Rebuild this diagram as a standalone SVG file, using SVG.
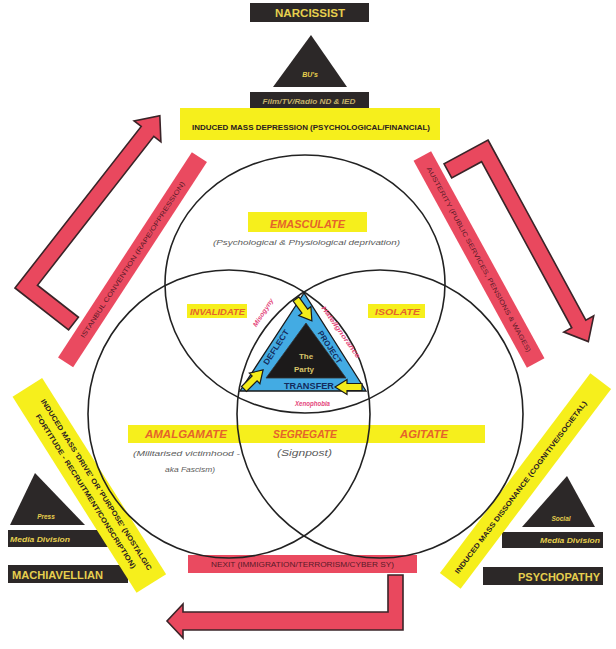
<svg xmlns="http://www.w3.org/2000/svg" width="616" height="649" viewBox="0 0 616 649">
<style>
.blk{fill:#2c2828}
.gold{fill:#e6cf4e;font-family:"Liberation Sans",Arial,sans-serif;font-weight:bold}
.gi{font-style:italic}
.ylw{fill:#f6ef1c}
.red{fill:#ea4a60}
.arr{fill:#e9485e;stroke:#3a2428;stroke-width:1.6;stroke-linejoin:miter}
.lbl{fill:#e5642b;font-family:"Liberation Sans",Arial,sans-serif;font-weight:bold;font-style:italic;text-anchor:middle}
.sub{fill:#5a5a5a;font-family:"Liberation Sans",Arial,sans-serif;font-style:italic;text-anchor:middle}
.bt{fill:#2a2020;font-family:"Liberation Sans",Arial,sans-serif;font-weight:bold;text-anchor:middle}
.rt{fill:#5a1a28;font-family:"Liberation Sans",Arial,sans-serif;text-anchor:middle;font-size:6.5px}
.circ{fill:none;stroke:#222;stroke-width:1.6}
.nv{fill:#142c5c;font-family:"Liberation Sans",Arial,sans-serif;font-weight:bold;text-anchor:middle}
.pk{fill:#e4457a;font-family:"Liberation Sans",Arial,sans-serif;font-weight:bold;font-style:italic;text-anchor:middle;font-size:6.5px}
</style>
<defs>
<polygon id="ya" points="0,-3.5 15,-3.5 15,-7.5 27,0 15,7.5 15,3.5 0,3.5" fill="#f4ec1a" stroke="#1a1a1a" stroke-width="1.2"/>
</defs>
<rect width="616" height="649" fill="#ffffff"/>

<g id="narcissist">
<rect x="250" y="3" width="119" height="19" class="blk"/>
<text x="310" y="17" class="gold" font-size="11" text-anchor="middle" textLength="70" lengthAdjust="spacingAndGlyphs">NARCISSIST</text>
<polygon points="311,35 273,87 347,87" class="blk"/>
<text x="310" y="77" class="gold gi" font-size="7" text-anchor="middle">BU's</text>
<rect x="250" y="92" width="119" height="16" class="blk"/>
<text x="309" y="103.5" class="gold gi" font-size="7.5" style="fill:#c2b06a" text-anchor="middle" textLength="93" lengthAdjust="spacingAndGlyphs">Film/TV/Radio ND &amp; IED</text>
</g>

<g id="depression">
<rect x="180" y="108" width="260" height="32" class="ylw"/>
<text x="311" y="130" class="bt" font-size="7.5" textLength="238" lengthAdjust="spacingAndGlyphs">INDUCED MASS DEPRESSION (PSYCHOLOGICAL/FINANCIAL)</text>
</g>

<g id="connectors">
<polygon class="arr" transform="translate(15,288) rotate(-52)" points="0,0 205,0 205,-9 225,8 205,25 205,16 16,16 16,68 0,68"/>
<polygon class="arr" transform="translate(488,140) rotate(61.5)" points="0,0 205,0 205,-9 225,8 205,25 205,16 16,16 16,50 0,50"/>
<polygon class="arr" points="388,575 403,575 403,630 183,630 183,638 167,621 183,604 183,612 388,612"/>
</g>

<g id="istanbul" transform="translate(132.5,259.75) rotate(-56.9)">
<rect x="-122.5" y="-9" width="245" height="18" class="red"/>
<text x="0" y="2.3" class="rt" textLength="185" lengthAdjust="spacingAndGlyphs">ISTANBUL CONVENTION (RAPE/OPPRESSION)</text>
</g>

<g id="austerity" transform="translate(479,259.5) rotate(61.3)">
<rect x="-118" y="-10" width="236" height="20" class="red"/>
<text x="0" y="2.3" class="rt" textLength="210" lengthAdjust="spacingAndGlyphs">AUSTERITY (PUBLIC SERVICES, PENSIONS &amp; WAGES)</text>
</g>

<g id="machiavellian">
<polygon points="35,473 10,525 85,525" class="blk"/>
<text x="46" y="519" class="gold gi" font-size="6.5" text-anchor="middle">Press</text>
<rect x="8" y="530" width="110" height="17" class="blk"/>
<text x="10" y="541.5" class="gold gi" font-size="7" textLength="60" lengthAdjust="spacingAndGlyphs">Media Division</text>
<rect x="8" y="565" width="120" height="18" class="blk"/>
<text x="12" y="578.5" class="gold" font-size="11" textLength="91" lengthAdjust="spacingAndGlyphs">MACHIAVELLIAN</text>
</g>

<g id="drive" transform="translate(43,400) rotate(57.7)">
<rect x="-19" y="-11" width="232" height="35" class="ylw"/>
<text x="100" y="2.5" class="bt" font-size="7" textLength="201" lengthAdjust="spacingAndGlyphs">INDUCED MASS 'DRIVE' OR 'PURPOSE' (NOSTALGIC</text>
<text x="100" y="15" class="bt" font-size="7" textLength="181" lengthAdjust="spacingAndGlyphs">FORTITUDE - RECRUITMENT/CONSCRIPTION)</text>
</g>

<g id="psychopathy">
<polygon points="567,476 522,527 595,527" class="blk"/>
<text x="561" y="521" class="gold gi" font-size="6.5" text-anchor="middle">Social</text>
<rect x="502" y="532" width="101" height="16" class="blk"/>
<text x="600" y="543" class="gold gi" font-size="7" text-anchor="end" textLength="60" lengthAdjust="spacingAndGlyphs">Media Division</text>
<rect x="483" y="567" width="120" height="18" class="blk"/>
<text x="600" y="580.5" class="gold" font-size="11" text-anchor="end" textLength="82" lengthAdjust="spacingAndGlyphs">PSYCHOPATHY</text>
</g>

<g id="dissonance" transform="translate(525.5,481) rotate(-53)">
<rect x="-125" y="-13" width="250" height="26" class="ylw"/>
<text x="-8" y="2.5" class="bt" font-size="7" textLength="214" lengthAdjust="spacingAndGlyphs">INDUCED MASS DISSONANCE (COGNITIVE/SOCIETAL)</text>
</g>

<g id="nexit">
<rect x="188" y="555" width="229" height="18" class="red"/>
<text x="302.5" y="567" class="rt" textLength="183" lengthAdjust="spacingAndGlyphs">NEXIT (IMMIGRATION/TERRORISM/CYBER SY)</text>
</g>

<rect x="128" y="425" width="357" height="18" class="ylw"/>

<g id="circles">
<ellipse cx="305" cy="284" rx="140" ry="129" class="circ"/>
<ellipse cx="229" cy="414" rx="141" ry="144" class="circ"/>
<ellipse cx="380" cy="414" rx="143" ry="144" class="circ"/>
</g>

<g id="emasculate">
<rect x="248" y="212" width="119" height="20" class="ylw"/>
<text x="307.5" y="227.5" class="lbl" font-size="10.5" textLength="75" lengthAdjust="spacingAndGlyphs">EMASCULATE</text>
<text x="306.5" y="245" class="sub" font-size="8" textLength="187" lengthAdjust="spacingAndGlyphs">(Psychological &amp; Physiological deprivation)</text>
</g>

<g id="invalidate">
<rect x="187" y="304" width="60" height="14" class="ylw"/>
<text x="217.5" y="315" class="lbl" font-size="8.5" textLength="55" lengthAdjust="spacingAndGlyphs">INVALIDATE</text>
</g>

<g id="isolate">
<rect x="368" y="304" width="57" height="14" class="ylw"/>
<text x="397.5" y="315" class="lbl" font-size="9" textLength="45" lengthAdjust="spacingAndGlyphs">ISOLATE</text>
</g>

<g id="amalgamate">
<text x="186" y="438" class="lbl" font-size="10.5" textLength="82" lengthAdjust="spacingAndGlyphs">AMALGAMATE</text>
<text x="186.5" y="455.5" class="sub" font-size="8" textLength="107" lengthAdjust="spacingAndGlyphs">(Militarised victimhood -</text>
<text x="190" y="471.5" class="sub" font-size="8" textLength="50" lengthAdjust="spacingAndGlyphs">aka Fascism)</text>
</g>

<g id="segregate">
<text x="305" y="438" class="lbl" font-size="10.5" textLength="64" lengthAdjust="spacingAndGlyphs">SEGREGATE</text>
<text x="304.5" y="456" class="sub" font-size="9.5" textLength="55" lengthAdjust="spacingAndGlyphs">(Signpost)</text>
</g>

<g id="agitate">
<text x="424" y="438" class="lbl" font-size="10" textLength="48" lengthAdjust="spacingAndGlyphs">AGITATE</text>
</g>

<g id="party">
<polygon points="304,293 240,391 366,391" fill="#43abe3" stroke="#1a1a1a" stroke-width="1.3"/>
<polygon points="306,323 266,378 346,378" fill="#1c1a1a" stroke="#333" stroke-width="0.8"/>
<text x="306" y="359" class="gold" font-size="8" text-anchor="middle" style="fill:#d8c46a">The</text>
<text x="304" y="372" class="gold" font-size="8" text-anchor="middle" style="fill:#d8c46a">Party</text>
<text transform="translate(276,347) rotate(-57)" y="3" class="nv" font-size="8" textLength="40" lengthAdjust="spacingAndGlyphs">DEFLECT</text>
<text transform="translate(330,347) rotate(57)" y="3" class="nv" font-size="8" textLength="37" lengthAdjust="spacingAndGlyphs">PROJECT</text>
<text x="309" y="388.5" class="nv" font-size="8.5" textLength="50" lengthAdjust="spacingAndGlyphs">TRANSFER</text>
<text transform="translate(263,312.5) rotate(-57)" y="2.3" class="pk" textLength="32" lengthAdjust="spacingAndGlyphs">Misogyny</text>
<text transform="translate(341,332) rotate(55)" y="2.3" class="pk" textLength="62" lengthAdjust="spacingAndGlyphs">Hate/Ignorance</text>
<text x="312.5" y="406" class="pk" textLength="35" lengthAdjust="spacingAndGlyphs">Xenophobia</text>
<use href="#ya" transform="translate(296,299) rotate(54)"/>
<use href="#ya" transform="translate(244,389) rotate(-45)"/>
<use href="#ya" transform="translate(362,387) rotate(180)"/>
</g>
</svg>
